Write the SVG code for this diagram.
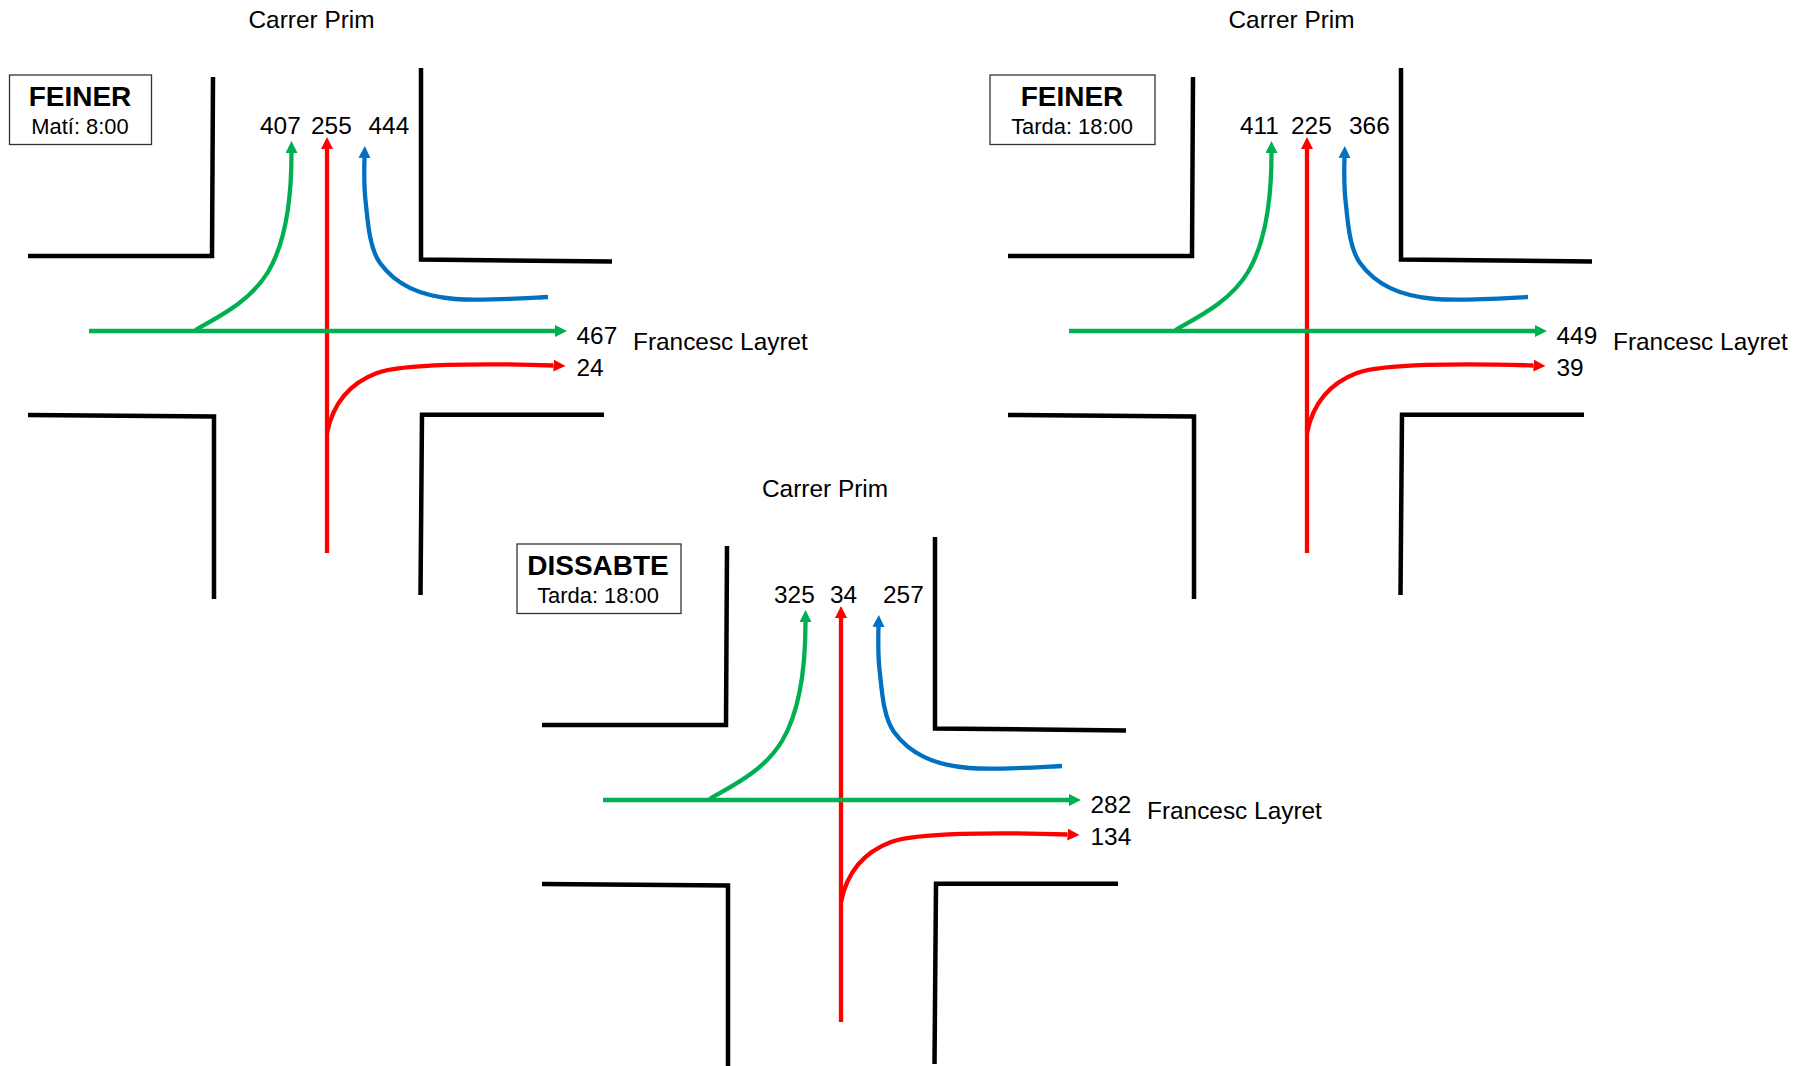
<svg xmlns="http://www.w3.org/2000/svg" width="1806" height="1066" viewBox="0 0 1806 1066">
<style>
text{font-family:"Liberation Sans",Arial,sans-serif;font-size:24.400px;fill:#000}
.t{font-size:28px;font-weight:700;text-anchor:middle}
.s{font-size:21.900px;text-anchor:middle}
.box{fill:#fff;stroke:#333;stroke-width:1.300}
.w{fill:none;stroke:#000;stroke-width:4.500;stroke-linejoin:miter}
.f{fill:none;stroke-width:4.300}
.g{stroke:#00B050}.r{stroke:#F00}.b{stroke:#0070C0}
.ag{marker-end:url(#mg)}.ar{marker-end:url(#mr)}.ab{marker-end:url(#mb)}
</style>
<defs>
<marker id="mg" markerUnits="userSpaceOnUse" markerWidth="13" markerHeight="13" refX="0" refY="6" orient="auto"><path d="M0,0L12,6L0,12Z" fill="#00B050"/></marker>
<marker id="mr" markerUnits="userSpaceOnUse" markerWidth="13" markerHeight="13" refX="0" refY="6" orient="auto"><path d="M0,0L12,6L0,12Z" fill="#F00"/></marker>
<marker id="mb" markerUnits="userSpaceOnUse" markerWidth="13" markerHeight="13" refX="0" refY="6" orient="auto"><path d="M0,0L12,6L0,12Z" fill="#0070C0"/></marker>
</defs>
<g id="node-feiner-mati">
<path class="w" d="M28,256H212L213,77"/><path class="w" d="M421,68V259.500L612,261.500"/><path class="w" d="M28,415L214,416.500V599"/><path class="w" d="M420.500,595L422,414.800H604"/>
<text x="248.500" y="28">Carrer Prim</text>
<rect class="box" x="9.500" y="75" width="142" height="69.500"/>
<text class="t" x="80" y="106">FEINER</text><text class="s" x="80" y="134">Matí: 8:00</text>
<text x="260" y="134">407</text><text x="311" y="134">255</text><text x="368.500" y="134">444</text>
<text x="576.500" y="343.500">467</text><text x="576.500" y="375.500">24</text><text x="633" y="350">Francesc Layret</text>
</g>
<g id="node-feiner-tarda" transform="translate(980,0)">
<path class="w" d="M28,256H212L213,77"/><path class="w" d="M421,68V259.500L612,261.500"/><path class="w" d="M28,415L214,416.500V599"/><path class="w" d="M420.500,595L422,414.800H604"/>
<text x="248.500" y="28">Carrer Prim</text>
<rect class="box" x="10" y="75" width="165" height="69.500"/>
<text class="t" x="92" y="106">FEINER</text><text class="s" x="92" y="134">Tarda: 18:00</text>
<text x="260" y="134">411</text><text x="311" y="134">225</text><text x="369" y="134">366</text>
<text x="576.500" y="343.500">449</text><text x="576.500" y="375.500">39</text><text x="633" y="350">Francesc Layret</text>
</g>
<g id="node-dissabte-tarda" transform="translate(514,469)">
<path class="w" d="M28,256H212L213,77"/><path class="w" d="M421,68V259.500L612,261.500"/><path class="w" d="M28,415L214,416.500V599"/><path class="w" d="M420.500,595L422,414.800H604"/>
<text x="248" y="28">Carrer Prim</text>
<rect class="box" x="3" y="75" width="164" height="69.500"/>
<text class="t" x="84" y="106">DISSABTE</text><text class="s" x="84" y="134">Tarda: 18:00</text>
<text x="260" y="134">325</text><text x="316" y="134">34</text><text x="369" y="134">257</text>
<text x="576.500" y="343.500">282</text><text x="576.500" y="375.500">134</text><text x="633" y="350">Francesc Layret</text>
</g>
<g id="connectors">
<g id="flows-1">
<path class="f r ar" d="M327,553V149"/><path class="f g ag" d="M89,331H555"/>
<path class="f g ag" d="M195.500,330C218,317 250,302 268,272C286,242 291.500,200 291.500,153"/>
<path class="f b ab" d="M548,297C510,299 480,301 455,299C420,296 396,285 380,263C370,249 368,225 366,205C364,190 364,175 364.500,158"/>
<path class="f r ar" d="M327,433C332,408 345,385 377,373C402,364 480,363 553.500,365.500"/>
</g>
<g id="flows-2" transform="translate(980,0)">
<path class="f r ar" d="M327,553V149"/><path class="f g ag" d="M89,331H555"/>
<path class="f g ag" d="M195.500,330C218,317 250,302 268,272C286,242 291.500,200 291.500,153"/>
<path class="f b ab" d="M548,297C510,299 480,301 455,299C420,296 396,285 380,263C370,249 368,225 366,205C364,190 364,175 364.500,158"/>
<path class="f r ar" d="M327,433C332,408 345,385 377,373C402,364 480,363 553.500,365.500"/>
</g>
<g id="flows-3" transform="translate(514,469)">
<path class="f r ar" d="M327,553V149"/><path class="f g ag" d="M89,331H555"/>
<path class="f g ag" d="M195.500,330C218,317 250,302 268,272C286,242 291.500,200 291.500,153"/>
<path class="f b ab" d="M548,297C510,299 480,301 455,299C420,296 396,285 380,263C370,249 368,225 366,205C364,190 364,175 364.500,158"/>
<path class="f r ar" d="M327,433C332,408 345,385 377,373C402,364 480,363 553.500,365.500"/>
</g>
</g>
</svg>
